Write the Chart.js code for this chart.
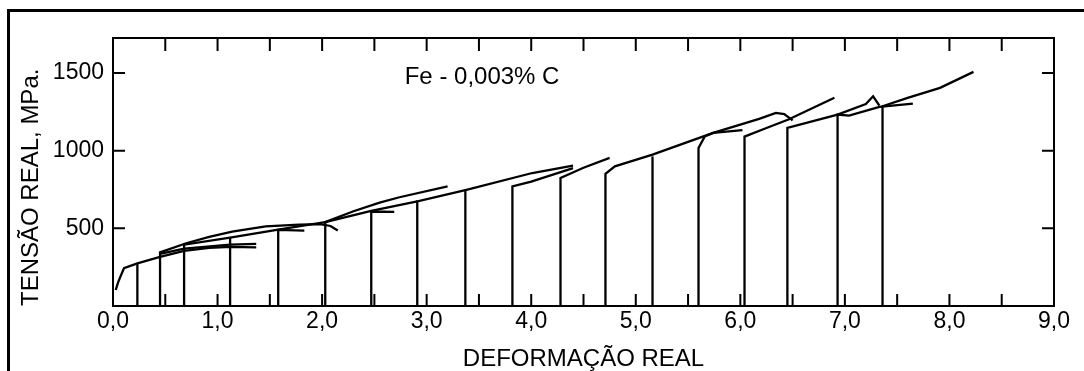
<!DOCTYPE html>
<html>
<head>
<meta charset="utf-8">
<script src="https://cdn.jsdelivr.net/npm/chart.js@4"></script>
<style>
    body { margin: 0; background: #fff; overflow: hidden; }
    .frame { position: absolute; left: 7px; top: 9px; width: 2000px; height: 2000px; border-left: 3px solid #000; border-top: 3px solid #000; }
    #chart { position: absolute; left: 0; top: 0; }
</style>
</head>
<body>
<div class="frame"></div>
<canvas id="chart" width="1084" height="371"></canvas>
<script>
// strain / stress pairs, one array per test pass
const loadCurve = [[0.026,103],[0.048,150],[0.074,194],[0.105,243],[0.233,274],[0.45,316],[0.68,355],[0.92,374],[1.12,381],[1.37,377]];
const unload023 = [[0.233,0],[0.233,274]];
const pass045 = [[0.45,0],[0.45,345],[0.70,404],[0.92,445],[1.14,478],[1.46,512],[1.78,524],[1.98,527],[2.08,515],[2.15,486]];
const pass045b = [[0.45,335],[0.68,370],[1.12,395],[1.37,400]];
const pass068 = [[0.68,0],[0.68,395],[1.12,440],[1.58,492],[2.03,540]];
const pass112 = [[1.12,0],[1.12,440]];
const pass158 = [[1.58,0],[1.58,490],[1.83,485]];
const pass203 = [[2.03,0],[2.03,540],[2.3,610],[2.55,665],[2.74,700],[3.2,770]];
const pass203b = [[2.03,540],[2.47,612],[2.91,673]];
const pass247 = [[2.47,0],[2.47,608],[2.69,606]];
const pass291 = [[2.91,0],[2.91,673],[3.38,748],[4.01,856],[4.40,903]];
const pass337 = [[3.37,0],[3.37,740]];
const pass382 = [[3.82,0],[3.82,770],[4.0,800],[4.40,888]];
const pass428 = [[4.28,0],[4.28,824],[4.5,890],[4.75,953]];
const pass471 = [[4.71,0],[4.71,851],[4.80,899],[5.16,974],[5.74,1114],[6.18,1204],[6.34,1243],[6.42,1235],[6.50,1195]];
const pass516 = [[5.16,0],[5.16,963]];
const pass560 = [[5.60,0],[5.60,1017],[5.66,1092],[5.74,1114],[6.02,1132]];
const pass604 = [[6.04,0],[6.04,1090],[6.25,1146],[6.46,1200],[6.90,1340]];
const pass645 = [[6.45,0],[6.45,1146],[6.93,1232],[7.20,1300],[7.27,1350],[7.33,1290]];
const pass693 = [[6.93,0],[6.93,1232],[7.04,1225],[7.33,1282],[7.65,1303]];
const pass736 = [[7.36,0],[7.36,1286],[7.6,1340],[7.91,1404],[8.23,1507]];

const xTicks = [0,1,2,3,4,5,6,7,8,9];
const xTickMarks = [0.5,1,1.5,2,2.5,3,3.5,4,4.5,5,5.5,6,6.5,7,7.5,8,8.5];
const yTicks = [500,1000,1500];

const allPasses = [loadCurve, unload023, pass045, pass045b, pass068, pass112, pass158, pass203, pass203b,
    pass247, pass291, pass337, pass382, pass428, pass471, pass516, pass560, pass604, pass645, pass693, pass736];

const fontFamily = '"Liberation Sans", Arial, sans-serif';

const frameAndTicks = {
    id: 'frameAndTicks',
    afterDraw(chart) {
        const ctx = chart.ctx;
        const a = chart.chartArea;
        const x = chart.scales.x;
        const y = chart.scales.y;
        ctx.save();
        ctx.strokeStyle = '#000';
        ctx.lineWidth = 2;
        ctx.strokeRect(a.left, a.top, a.right - a.left, a.bottom - a.top);
        ctx.beginPath();
        xTickMarks.forEach(function(v) {
            const px = x.getPixelForValue(v);
            ctx.moveTo(px, a.bottom);
            ctx.lineTo(px, a.bottom - 12);
            ctx.moveTo(px, a.top);
            ctx.lineTo(px, a.top + 13);
        });
        yTicks.forEach(function(v) {
            const py = y.getPixelForValue(v);
            ctx.moveTo(a.left, py);
            ctx.lineTo(a.left + 12, py);
            ctx.moveTo(a.right, py);
            ctx.lineTo(a.right - 12, py);
        });
        ctx.stroke();
        ctx.fillStyle = '#000';
        ctx.font = '24px ' + fontFamily;
        ctx.textBaseline = 'middle';
        ctx.textAlign = 'left';
        ctx.fillText('Fe - 0,003% C', x.getPixelForValue(2.79), y.getPixelForValue(1470));
        ctx.restore();
    }
};

const ctx = document.getElementById('chart');
const chart = new Chart(ctx, {
    type: 'line',
    data: {
        datasets: allPasses.map(function(p) {
            return {
                data: p.map(function(pt) { return {x: pt[0], y: pt[1]}; }),
                borderColor: '#000',
                borderWidth: 2.3,
                pointRadius: 0,
                tension: 0,
                fill: false
            };
        })
    },
    options: {
        responsive: false,
        animation: false,
        devicePixelRatio: 1,
        layout: { padding: { top: 38, right: 30, left: 0, bottom: 0 } },
        plugins: { legend: { display: false }, tooltip: { enabled: false } },
        scales: {
            x: {
                type: 'linear',
                min: 0,
                max: 9,
                afterBuildTicks: function(s) { s.ticks = xTicks.map(function(v) { return {value: v}; }); },
                afterFit: function(s) { s.height = 65; },
                ticks: {
                    color: '#000',
                    padding: 2,
                    font: { size: 23, family: fontFamily },
                    callback: function(v) { return v.toFixed(1).replace('.', ','); }
                },
                grid: { display: false, drawTicks: false },
                border: { display: false },
                title: {
                    display: true,
                    text: 'DEFORMAÇÃO REAL',
                    color: '#000',
                    padding: 0,
                    font: { size: 24, family: fontFamily, lineHeight: 1 }
                }
            },
            y: {
                type: 'linear',
                min: 0,
                max: 1725,
                afterBuildTicks: function(s) { s.ticks = yTicks.map(function(v) { return {value: v}; }); },
                afterFit: function(s) { s.width = 113; },
                ticks: {
                    color: '#000',
                    padding: 9,
                    font: { size: 23, family: fontFamily },
                    callback: function(v) { return String(v); }
                },
                grid: { display: false, drawTicks: false },
                border: { display: false },
                title: {
                    display: true,
                    text: 'TENSÃO REAL, MPa.',
                    align: 'start',
                    color: '#000',
                    padding: { top: 17 },
                    font: { size: 24, family: fontFamily }
                }
            }
        }
    },
    plugins: [frameAndTicks]
});
</script>
</body>
</html>
